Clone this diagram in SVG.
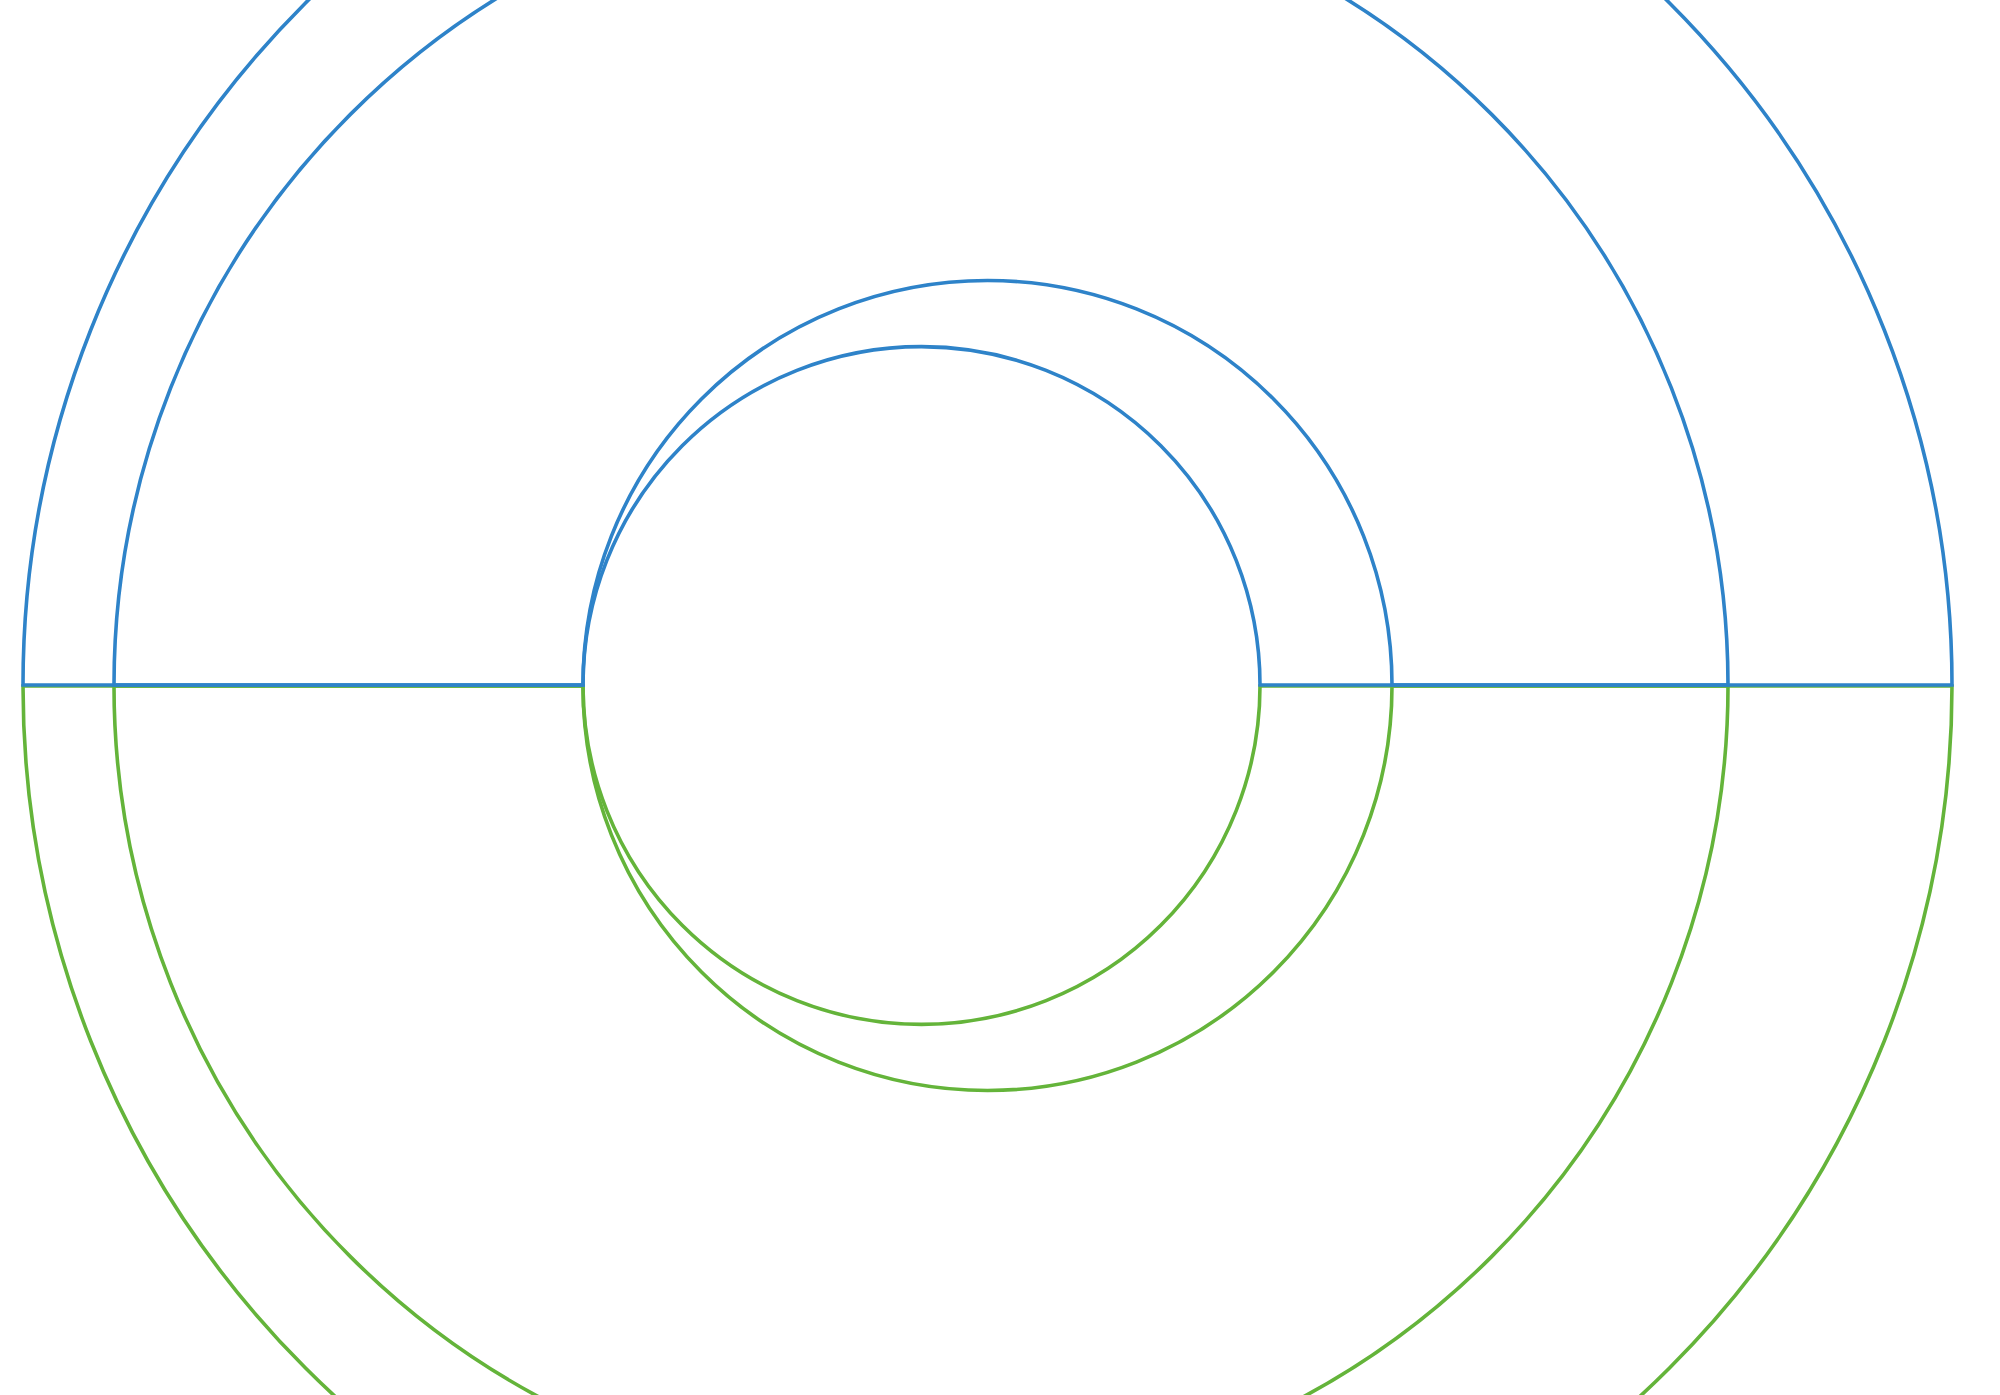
<svg xmlns="http://www.w3.org/2000/svg" width="2000" height="1395" viewBox="0 0 2000 1395">
<style>
.b{fill:none;stroke:#2e83c9;stroke-width:3.6;stroke-linejoin:miter}
.g{fill:none;stroke:#64b43a;stroke-width:3.6;stroke-linejoin:miter}
</style>
<rect width="2000" height="1395" fill="#ffffff"/>
<g id="lower-halves">
<path class="g" d="M23,686 A964.5,964.5 0 0 0 1952,686 L1392,686 A404.5,404.5 0 0 1 583,686 Z"/>
<path class="g" d="M114,686 A807,807 0 0 0 1728,686 L1260,686 A338.5,338.5 0 0 1 583,686 Z"/>
</g>
<g id="upper-halves">
<path class="b" d="M23,685 A964.5,964.5 0 0 1 1952,685 L1392,685 A404.5,404.5 0 0 0 583,685 Z"/>
<path class="b" d="M114,685 A807,807 0 0 1 1728,685 L1260,685 A338.5,338.5 0 0 0 583,685 Z"/>
</g>
</svg>
